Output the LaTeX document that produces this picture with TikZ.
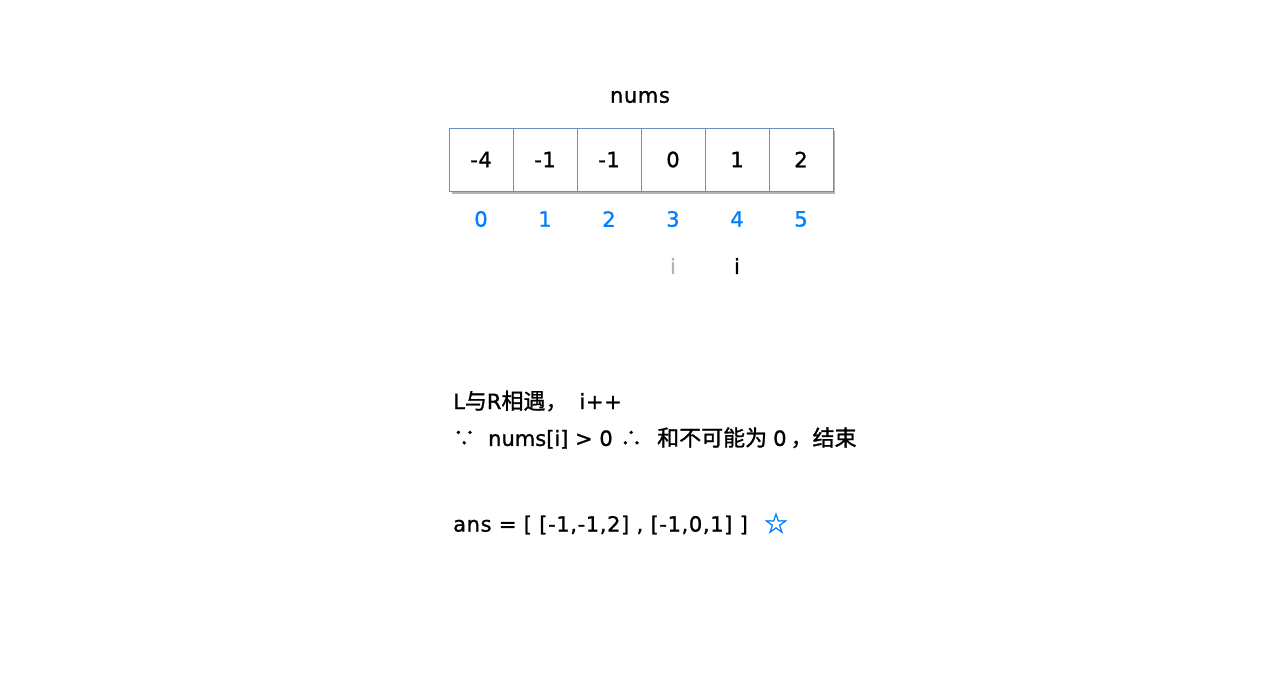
\documentclass[tikz,border=0pt]{standalone}
\usepackage{fontspec}
\setmainfont{DejaVu Sans}[FakeBold=1.2,LetterSpace=3]
\newfontfamily\cjkf{Noto Sans CJK SC}[FakeBold=1.2]
\newcommand{\cjk}[1]{{\cjkf\fontsize{22}{24}\selectfont #1}}
\begin{document}
\begin{tikzpicture}[x=1pt,y=-1pt,
  base/.style={font=\fontsize{21}{24}\selectfont},
  cell/.style={base,draw=cellblue,fill=white,line width=0.8pt,minimum width=64pt,minimum height=63pt,inner sep=0pt},
  idx/.style={base,text=idxblue},
  txt/.style={base,anchor=west,inner sep=0pt}]
\definecolor{cellblue}{HTML}{6C8EBF}
\definecolor{idxblue}{HTML}{007FFF}
\definecolor{shadowgray}{HTML}{B3B3B3}
\useasboundingbox (0,0) rectangle (1280,700);
\fill[white] (0,0) rectangle (1280,700);
\node[base] (title) at (640,97) {nums};
\fill[shadowgray] (452,131) rectangle (835,194);
\foreach \v [count=\k from 0] in {-4,-1,-1,0,1,2}{
  \node[cell] (c\k) at ({481+64*\k},159.5) {\v};
  \node[idx] (n\k) at ({481+64*\k},219) {\k};
}
\node[base,text=shadowgray] (iold) at (673,266) {i};
\node[base] (inew) at (737,266) {i};
\node[txt] (l1) at (453,401) {L\cjk{与}R\cjk{相遇，}\hspace{12pt}i++};
\node[txt] (l2) at (453,438) {\makebox[35pt][l]{\cjk{∵}}\makebox[132pt][l]{\addfontfeature{LetterSpace=0}nums[i] > 0}\makebox[37pt][l]{\cjk{∴}}\cjk{和不可能为}\hspace{6pt}{\addfontfeature{LetterSpace=0}0}\hspace{4pt}\cjk{，结束}};
\node[txt] (l3) at (453,525) {ans = [ [-1,-1,2] , [-1,0,1] ]};
\node[text=idxblue,font=\fontsize{28}{30}\selectfont] (star) at (776,523) {☆};
\end{tikzpicture}
\end{document}
